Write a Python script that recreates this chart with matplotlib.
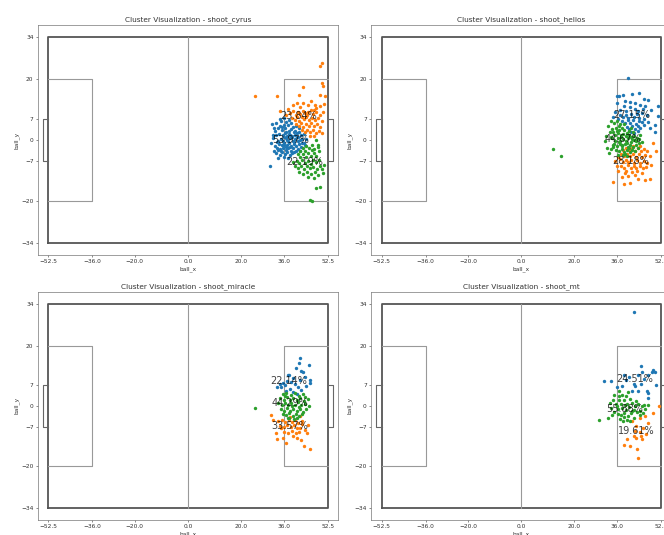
import numpy as np
import matplotlib
matplotlib.use("Agg")
import matplotlib.pyplot as plt

# cluster points (ball_x, ball_y), per team and cluster
cyrus_blue = [(31.7,5.4),(33.0,5.6),(33.8,4.0),(32.6,2.9),(33.2,1.8),(32.0,0.7),(31.3,-1.0),(32.6,-2.1),(33.8,-3.2),(33.0,-4.3),(34.5,-4.9),(31.0,-8.7),
    (34.8,6.3),(35.9,5.1),(36.7,6.0),(37.5,4.8),(38.6,5.5),(39.4,4.2),(35.2,3.3),(36.4,3.9),(37.8,3.1),(38.9,3.6),(40.2,3.0),(41.0,2.2),
    (34.2,2.0),(35.6,1.5),(36.5,2.4),(37.3,1.2),(38.1,2.0),(39.2,1.4),(40.1,1.8),(41.5,0.9),(42.3,1.6),(34.9,0.4),(35.8,-0.3),(36.9,0.6),
    (37.7,-0.2),(38.5,0.5),(39.4,-0.4),(40.3,0.3),(41.2,-0.5),(42.1,-0.1),(43.0,0.4),(34.1,-1.2),(35.3,-1.6),(36.2,-0.9),(37.1,-1.8),(38.0,-1.1),
    (38.9,-1.9),(39.8,-1.3),(40.7,-2.0),(41.6,-1.4),(42.6,-2.2),(43.6,-1.0),(34.7,-2.9),(35.8,-2.5),(36.7,-3.3),(37.6,-2.7),(38.6,-3.5),(39.5,-2.8),
    (40.5,-3.6),(35.2,-4.1),(36.3,-4.6),(37.2,-4.0),(38.2,-4.8),(39.1,-4.3),(36.0,-5.6),(37.6,-5.9),(33.9,-5.8),(34.0,-0.2),(36.0,0.9),(39.9,2.5),
    (37.0,2.8),(38.4,-2.4),(40.9,1.1),(42.8,-0.9),(35.5,4.4),(36.9,-2.2),(39.0,0.9),(41.9,2.7),(43.5,1.9),(44.3,0.2),(44.0,-1.8),(33.4,-0.6),
    (32.4,3.8),(34.4,4.7),(40.6,4.5),(41.8,3.8),(36.1,-1.5),(38.3,1.5),(40.0,-0.8),(37.4,0.0),(35.0,-3.5),(39.7,-3.9),(41.3,-3.0),(42.0,-3.6),
    (33.5,-2.8),(32.3,-3.6),(31.9,1.8),(34.6,6.9),(36.2,7.2),(38.0,6.6)]
cyrus_orange = [(25.1,14.4),(33.5,14.4),(34.7,9.5),(41.7,15.0),(43.2,17.5),(46.4,12.8),(47.6,11.7),(49.5,24.4),(50.3,25.3),(50.2,18.9),(50.8,17.7),
    (49.5,15.0),(51.4,14.4),(39.5,11.7),(40.8,12.2),(43.2,12.2),(45.1,11.7),(46.4,10.0),(48.3,10.6),(49.5,11.1),(51.0,12.0),(36.8,8.2),
    (38.4,8.8),(39.6,9.6),(40.5,8.1),(41.3,9.3),(42.2,8.6),(43.1,9.7),(44.0,8.9),(45.2,9.4),(46.8,8.7),(48.1,9.1),(49.6,8.4),(50.9,9.2),
    (39.0,7.2),(40.1,6.6),(41.0,7.5),(41.9,6.3),(42.7,7.6),(43.6,6.8),(44.5,7.7),(45.6,6.5),(46.7,7.3),(47.9,6.6),(49.0,7.1),(50.4,6.4),
    (40.7,5.3),(41.7,4.6),(42.5,5.5),(43.4,4.4),(44.3,5.4),(45.3,4.7),(46.3,5.6),(47.3,4.5),(48.5,5.3),(49.7,4.2),
    (43.0,3.2),(44.0,2.6),(44.9,3.4),(45.9,2.5),(46.9,3.3),(48.0,2.2),(49.2,3.0),(50.5,2.4),(46.0,1.4),(47.5,1.2),(44.8,8.3),(42.0,10.8),(47.2,9.9),(37.7,10.4)]
cyrus_green = [(48.3,0.0),(48.8,-1.6),(48.3,-15.9),(49.8,-15.6),(45.8,-19.8),(46.5,-20.3),(50.5,-9.5),(50.8,-11.0),(51.2,-8.2),(49.2,-3.5),
    (41.2,-4.5),(42.2,-3.6),(43.3,-2.8),(44.4,-2.0),(45.5,-2.7),(46.6,-1.8),(47.5,-3.0),(42.0,-5.6),(43.1,-4.7),(44.2,-5.5),(45.2,-4.3),(46.3,-5.2),(47.3,-4.4),(48.2,-5.4),
    (40.8,-6.8),(41.9,-7.5),(43.0,-6.6),(44.0,-7.7),(45.0,-6.9),(46.1,-7.8),(47.1,-6.7),(48.3,-7.4),(49.4,-6.5),(40.2,-8.6),(41.4,-9.3),(42.5,-8.5),(43.6,-9.6),(44.7,-8.7),
    (45.8,-9.4),(47.0,-8.9),(48.4,-9.7),(49.6,-8.5),(41.7,-10.5),(43.2,-11.1),(44.6,-10.6),(46.2,-11.4),(47.6,-10.7),(49.0,-11.6),(45.0,-12.3),(47.5,-12.6),
    (39.4,-7.3),(43.8,-3.5),(46.7,-3.4),(48.8,-2.3)]

helios_blue = [(40.2,20.5),(36.8,14.4),(38.3,14.7),(41.8,15.3),(44.3,15.6),(46.1,13.6),(47.7,13.2),(35.8,12.2),(38.9,12.8),(40.8,12.4),(42.7,12.2),
    (44.5,11.7),(46.4,11.1),(48.9,10.0),(37.0,10.0),(39.5,9.5),(42.7,10.3),(45.2,8.9),(47.1,8.4),(50.2,5.1),(48.3,4.0),(51.5,7.8),(34.3,7.6),
    (36.0,14.4),(51.5,11.1),(50.2,2.5),
    (37.2,8.3),(38.3,7.6),(39.3,8.4),(40.3,7.4),(41.3,8.6),(42.3,7.7),(43.4,8.5),(44.4,7.3),(38.0,6.2),(39.0,5.5),(40.0,6.5),(41.0,5.7),
    (42.0,6.6),(43.0,5.4),(44.1,6.3),(45.3,5.8),(39.6,4.3),(40.6,3.6),(41.6,4.5),(42.6,3.7),(43.7,4.6),(44.8,3.9),(46.2,4.8),(41.1,2.8),
    (42.3,2.4),(43.9,3.0),(36.5,6.8),(40.9,10.9),(43.8,9.6),(46.0,6.9),(38.6,11.2),(35.4,9.2),(47.5,6.0),(45.8,10.2)]
helios_orange = [(34.5,-14.0),(38.6,-14.6),(41.0,-14.2),(46.4,-13.2),(48.3,-13.0),(45.2,-11.0),(42.7,-11.5),(39.5,-10.4),(36.4,-10.4),(35.8,-8.7),
    (50.8,-3.8),(35.2,-7.1),(48.3,-5.4),(49.5,-1.0),(37.8,-12.3),(40.2,-12.0),(44.0,-12.8),
    (38.2,-3.2),(39.4,-2.6),(40.5,-3.4),(41.6,-2.7),(42.7,-3.5),(43.8,-2.8),(45.0,-3.6),(46.2,-2.9),(47.4,-3.7),(37.5,-4.6),(38.6,-5.3),
    (39.7,-4.5),(40.8,-5.4),(41.9,-4.6),(43.0,-5.5),(44.1,-4.7),(45.3,-5.6),(46.5,-4.8),(37.0,-6.4),(38.1,-7.2),(39.2,-6.5),(40.3,-7.4),
    (41.4,-6.6),(42.5,-7.5),(43.6,-6.7),(44.8,-7.6),(46.0,-6.8),(47.3,-7.5),(37.6,-8.5),(38.8,-9.2),(40.0,-8.4),(41.1,-9.3),(42.2,-8.5),
    (43.3,-9.4),(44.5,-8.6),(45.8,-9.3),(47.0,-9.0),(39.0,-10.9),(41.5,-10.6),(43.5,-10.2),(44.6,-2.0),(42.1,-1.9),(48.7,-8.2),(36.4,-5.7)]
helios_green = [(12.0,-3.1),(14.9,-5.3),(33.9,6.2),(32.6,4.5),(32.0,1.2),(32.3,-2.6),(34.5,-1.5),(33.3,2.8),(31.6,-0.5),(33.0,-4.2),
    (35.0,5.6),(36.1,6.4),(37.2,5.2),(35.6,4.0),(36.7,3.3),(37.8,4.1),(38.8,3.2),(39.7,2.4),(34.6,2.6),(35.4,1.8),(36.4,2.3),(37.4,1.5),
    (38.4,2.0),(39.4,1.3),(40.4,1.7),(41.4,1.0),(42.5,1.4),(43.6,0.8),
    (34.2,0.5),(35.2,-0.2),(36.2,0.6),(37.2,-0.4),(38.2,0.4),(39.2,-0.3),(40.2,0.5),(41.2,-0.6),(42.2,0.1),(43.2,-0.5),(44.3,0.2),(35.0,-1.3),
    (36.0,-2.0),(37.0,-1.2),(38.0,-2.1),(39.0,-1.4),(40.0,-2.2),(41.0,-1.5),(42.0,-2.3),(43.0,-1.6),(44.1,-1.1),
    (35.7,-3.2),(36.8,-3.7),(37.8,-3.0),(38.8,-3.9),(39.8,-3.2),(40.8,-4.0),(41.8,-3.3),(36.5,-4.8),(38.3,-5.0),(39.9,-5.3),(33.8,-3.0),
    (34.0,3.7),(36.9,4.6),(38.6,5.4),(40.5,3.1),(42.0,2.6),(44.8,1.7),(45.5,-0.7),(34.6,-2.4),(37.6,0.9),(39.6,-0.9),(41.7,0.3),(43.7,-2.6),
    (36.6,-0.7),(40.6,-2.8),(38.9,-4.6),(35.9,3.0),(37.9,-1.7),(42.8,-3.6),(33.7,1.0),(41.2,4.0)]

miracle_blue = [(42.0,15.9),(41.8,14.2),(40.5,12.6),(45.4,13.7),(42.6,11.7),(37.7,10.3),(39.5,9.2),(45.7,8.7),(45.7,7.6),(42.0,8.7),
    (35.1,6.1),(33.5,6.1),(38.2,5.7),(42.6,5.3),(39.5,4.6),(36.4,7.0),(41.4,6.4),(35.8,7.6),(43.2,11.4),(38.0,10.3),(40.3,7.3),(37.2,8.4),
    (44.2,6.6),(36.9,5.0),(40.8,3.8),(38.6,7.9),(34.4,7.3),(43.8,9.5)]
miracle_orange = [(31.3,-3.0),(32.0,-4.7),(35.1,-7.4),(33.2,-8.9),(33.5,-11.0),(35.7,-10.6),(39.5,-10.2),(42.6,-11.3),(43.6,-13.3),(46.0,-14.3),
    (42.0,-7.4),(43.9,-8.0),(45.1,-6.3),(37.0,-12.4),(40.8,-10.8),(40.5,-9.1),
    (34.0,-5.2),(35.3,-4.6),(36.6,-5.4),(37.8,-4.7),(39.0,-5.5),(40.2,-4.8),(41.4,-5.6),(42.7,-4.9),(34.6,-6.6),(36.0,-7.0),(37.3,-6.4),
    (38.6,-7.2),(39.8,-6.5),(41.1,-7.3),(43.0,-6.2),(36.2,-8.6),(37.6,-9.0),(39.0,-8.4),(41.8,-8.8),(44.6,-8.9),(38.2,-3.6),(42.0,-3.4)]
miracle_green = [(25.3,-0.8),(35.6,4.0),(37.0,4.4),(38.6,3.6),(40.2,4.1),(41.9,3.4),(43.4,3.9),(34.6,2.6),(35.9,2.0),(37.2,2.8),(38.4,1.9),
    (39.6,2.7),(40.8,1.8),(42.1,2.6),(43.6,1.5),(45.0,2.2),
    (34.0,0.8),(35.3,0.1),(36.5,0.9),(37.7,0.2),(38.9,1.0),(40.1,0.3),(41.3,1.1),(42.5,0.2),(43.8,0.7),(45.3,0.0),(34.8,-1.0),(36.0,-1.6),
    (37.2,-0.8),(38.4,-1.7),(39.6,-0.9),(40.8,-1.8),(42.0,-1.0),(43.2,-1.9),(44.5,-1.2),
    (35.7,-2.7),(36.9,-3.2),(38.1,-2.5),(39.3,-3.4),(40.5,-2.6),(41.7,-3.3),(42.9,-2.7),(37.6,-4.1),(39.9,-4.3),(41.0,-4.0),(36.3,3.3),
    (39.0,-0.1),(41.6,-0.3),(44.0,3.0),(38.0,-3.9)]

mt_blue = [(42.3,31.1),(44.9,13.1),(45.2,11.4),(49.0,11.1),(50.2,11.4),(47.7,10.3),(44.0,10.1),(50.6,7.0),(31.1,8.3),(33.9,8.1),(35.8,6.2),
    (42.7,6.7),(41.5,4.9),(43.7,4.9),(47.1,4.9),(47.7,2.7),(39.3,8.6),(37.7,6.7),(42.3,7.2),(44.9,7.3),(47.5,4.2),(46.3,8.8),(40.4,9.6),
    (49.6,12.0),(38.6,10.3)]
mt_orange = [(51.7,0.0),(49.4,-2.4),(46.5,-3.5),(44.6,-3.9),(43.3,-6.6),(45.8,-7.3),(44.6,-8.8),(42.4,-10.2),(43.3,-10.7),(44.9,-10.2),
    (38.5,-13.0),(40.9,-13.4),(43.6,-14.3),(45.5,-11.0),(44.0,-17.4),(42.7,-8.5),(41.8,-5.2),(46.8,-9.5),(39.8,-11.0),(47.5,-5.8)]
mt_green = [(29.2,-4.7),(32.6,-3.9),(36.8,4.8),(36.6,3.1),(34.5,2.0),(35.5,0.6),(33.8,-0.8),(35.0,-2.0),(36.2,-1.0),(37.4,0.5),(38.5,1.8),
    (39.6,0.7),(40.7,2.2),(37.8,3.6),(39.2,3.3),(36.7,1.9),(38.0,-0.6),(39.3,-1.5),(40.5,-0.4),(41.7,0.8),(42.8,-0.2),(44.0,0.5),(45.2,-0.1),
    (46.3,0.3),(47.5,0.2),(36.4,-2.6),(37.6,-3.1),(38.8,-2.4),(40.0,-3.3),(41.2,-2.5),(42.4,-1.4),(43.6,-2.1),(44.8,-1.6),(45.9,-2.3),
    (37.0,-4.4),(38.3,-5.0),(39.6,-4.6),(41.0,-5.2),(42.3,-4.0),(34.2,-3.2),(35.0,3.6),(40.0,4.5),(43.0,1.7),(44.5,-3.2),(36.0,0.0),
    (39.0,0.2),(41.5,-1.8),(33.4,1.0),(38.5,-3.8),(46.6,-1.2)]

# cluster centres and share labels (blue, orange, green)
cyrus_centers = [(38.5, 0.1), (41.7, 7.8), (44.0, -7.4)]
cyrus_pct = ["53.97%", "23.84%", "22.19%"]
helios_centers = [(41.4, 8.1), (41.2, -7.0), (38.3, 0.4)]
helios_pct = ["27.15%", "28.18%", "44.67%"]
miracle_centers = [(38.0, 8.1), (38.2, -6.7), (38.2, 0.9)]
miracle_pct = ["22.14%", "33.57%", "44.29%"]
mt_centers = [(42.7, 9.0), (43.3, -8.3), (38.9, -1.0)]
mt_pct = ["24.51%", "19.61%", "55.88%"]

teams = ["shoot_cyrus", "shoot_helios", "shoot_miracle", "shoot_mt"]
colors = ["#1f77b4", "#ff7f0e", "#2ca02c"]

x_ticks = [-52.5, -36.0, -20.0, 0.0, 20.0, 36.0, 52.5]
y_ticks = [-34, -20, -7, 0, 7, 20, 34]


def draw_pitch(ax):
    ax.plot([-52.5, 52.5, 52.5, -52.5, -52.5], [-34, -34, 34, 34, -34], color="#555555", lw=1.3, zorder=1)
    ax.plot([0, 0], [-34, 34], color="#999999", lw=0.8, zorder=1)
    for s in (-1, 1):
        ax.plot([s*52.5, s*36, s*36, s*52.5], [20, 20, -20, -20], color="#999999", lw=0.8, zorder=1)
        ax.plot([s*52.5, s*54.5, s*54.5, s*52.5], [7, 7, -7, -7], color="#666666", lw=0.8, zorder=1)


fig = plt.figure(figsize=(6.64, 5.35), dpi=100)
boxes = [[0.0568, 0.5234, 0.4527, 0.4299], [0.5587, 0.5234, 0.4527, 0.4299],
         [0.0568, 0.0280, 0.4527, 0.4270], [0.5587, 0.0280, 0.4527, 0.4270]]
data = [
    ([cyrus_blue, cyrus_orange, cyrus_green], cyrus_centers, cyrus_pct),
    ([helios_blue, helios_orange, helios_green], helios_centers, helios_pct),
    ([miracle_blue, miracle_orange, miracle_green], miracle_centers, miracle_pct),
    ([mt_blue, mt_orange, mt_green], mt_centers, mt_pct),
]

for box, team, (clusters, centers, pct) in zip(boxes, teams, data):
    ax = fig.add_axes(box)
    draw_pitch(ax)
    for pts, c in zip(clusters, colors):
        p = np.array(pts)
        ax.scatter(p[:, 0], p[:, 1], s=6, color=c, linewidths=0, zorder=2)
    for (cx, cy), t in zip(centers, pct):
        ax.text(cx, cy, t, ha="center", va="center", fontsize=7, color="black", alpha=0.75, zorder=3)
    ax.set_xlim(-56.5, 56.5)
    ax.set_ylim(-38, 38)
    ax.set_xticks(x_ticks)
    ax.set_yticks(y_ticks)
    ax.tick_params(labelsize=4.2, length=1.5, width=0.4, pad=1.5, colors="#333333")
    for sp in ax.spines.values():
        sp.set_linewidth(0.5)
        sp.set_color("#777777")
    ax.set_title("Cluster Visualization - " + team, fontsize=5.3, pad=2.5, color="#333333")
    ax.set_xlabel("ball_x", fontsize=4.2, labelpad=1.5, color="#333333")
    ax.set_ylabel("ball_y", fontsize=4.2, labelpad=1.5, color="#333333")

fig.savefig("out.png", dpi=100)
